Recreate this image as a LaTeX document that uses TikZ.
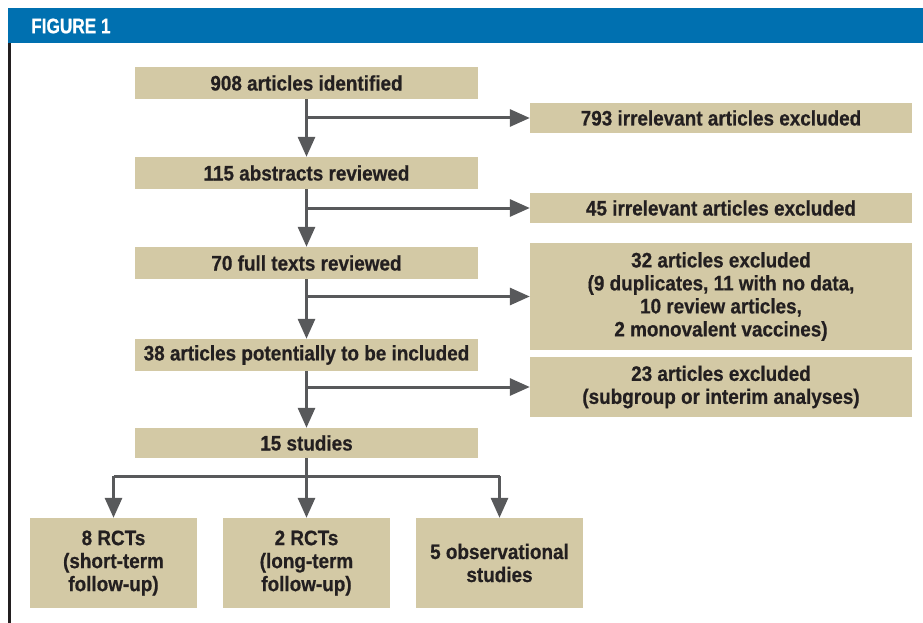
\documentclass[tikz,border=0pt]{standalone}
\usepackage{fontspec}
\setmainfont{Liberation Sans}[FakeStretch=0.9, BoldFeatures={FakeBold=0.6}]
\newfontfamily\titlefont{Liberation Sans}[FakeStretch=0.82, BoldFeatures={FakeBold=0.8}]
\usetikzlibrary{arrows.meta}
\definecolor{hdrblue}{HTML}{0070B0}
\definecolor{tan}{HTML}{D3C9A5}
\definecolor{arrowgray}{HTML}{58595B}
\definecolor{txt}{HTML}{231F20}
\tikzset{
  box/.style={fill=tan, draw=none, inner sep=0pt, align=center, text=txt,
    font=\fontsize{21}{23}\selectfont\bfseries},
  conn/.style={draw=arrowgray, line width=3pt},
  arr/.style={conn, -{Triangle[length=20pt,width=17pt]}},
}
\begin{document}
\begin{tikzpicture}[x=1pt,y=-1pt]
\useasboundingbox (0,0) rectangle (923,623);
\fill[white] (0,0) rectangle (923,623);
% header
\fill[hdrblue] (8,8) rectangle (923,43);
\node[anchor=west, text=white, inner sep=0pt, font=\titlefont\fontsize{21}{21}\selectfont\bfseries] (title) at (31,26) {FIGURE 1};
\fill[txt] (8,43) rectangle (11,623);
% main column
\node[box, minimum width=343pt, minimum height=32pt] (b1) at (306.5,83) {908 articles identified};
\node[box, minimum width=343pt, minimum height=32pt] (b2) at (306.5,173) {115 abstracts reviewed};
\node[box, minimum width=343pt, minimum height=32pt] (b3) at (306.5,263) {70 full texts reviewed};
\node[box, minimum width=343pt, minimum height=32pt] (b4) at (306.5,355) {38 articles potentially to be included};
\node[box, minimum width=343pt, minimum height=30pt] (b5) at (306.5,443) {15 studies};
% exclusions
\node[box, minimum width=382pt, minimum height=30pt] (e1) at (721,118) {793 irrelevant articles excluded};
\node[box, minimum width=382pt, minimum height=30pt] (e2) at (721,208) {45 irrelevant articles excluded};
\node[box, minimum width=382pt, minimum height=107pt] (e3) at (721,296.5) {32 articles excluded\\(9 duplicates, 11 with no data,\\10 review articles,\\2 monovalent vaccines)};
\node[box, minimum width=382pt, minimum height=60pt] (e4) at (721,387) {23 articles excluded\\(subgroup or interim analyses)};
% bottom row
\node[box, minimum width=167pt, minimum height=90pt] (c1) at (113.5,563) {8 RCTs\\(short-term\\follow-up)};
\node[box, minimum width=167pt, minimum height=90pt] (c2) at (306.5,563) {2 RCTs\\(long-term\\follow-up)};
\node[box, minimum width=167pt, minimum height=90pt] (c3) at (499.5,563) {5 observational\\studies};
% trunk arrows
\draw[arr] (b1.south) -- (b2.north);
\draw[arr] (b2.south) -- (b3.north);
\draw[arr] (b3.south) -- (b4.north);
\draw[arr] (b4.south) -- (b5.north);
% side arrows
\draw[arr] (b1.south |- e1.west) -- (e1.west);
\draw[arr] (b2.south |- e2.west) -- (e2.west);
\draw[arr] (b3.south |- e3.west) -- (e3.west);
\draw[arr] (b4.south |- e4.west) -- (e4.west);
% branch
\coordinate (br) at (306.5,476);
\draw[conn] (b5.south) -- (br);
\draw[conn] (c1.north |- br) -- (c3.north |- br);
\draw[arr] (c1.north |- br) -- (c1.north);
\draw[arr] (br) -- (c2.north);
\draw[arr] (c3.north |- br) -- (c3.north);
\end{tikzpicture}
\end{document}
